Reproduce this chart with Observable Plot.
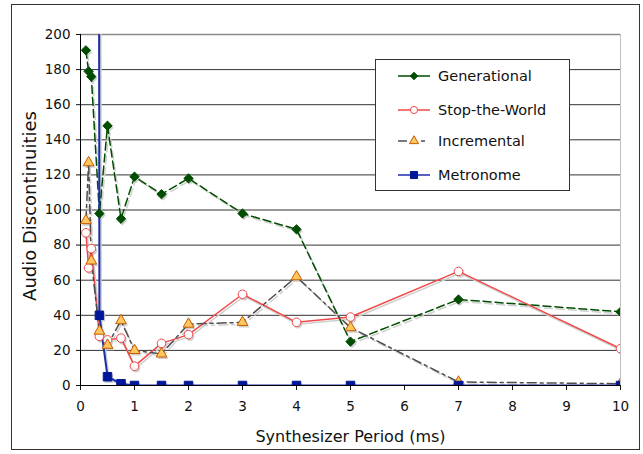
<!DOCTYPE html>
<html>
<head>
<meta charset="utf-8">
<script src="https://cdn.jsdelivr.net/npm/d3@7"></script>
<script src="https://cdn.jsdelivr.net/npm/@observablehq/plot@0.6"></script>
<style>
  html, body { margin: 0; padding: 0; background: #fff; }
  #wrap { position: relative; width: 643px; height: 454px; font-family: "DejaVu Sans", Verdana, sans-serif; }
  #border { position: absolute; left: 11px; top: 4px; width: 629px; height: 446px; border: 1px solid #333; box-sizing: border-box; pointer-events: none; }
  #legend { position: absolute; left: 375px; top: 59px; width: 195px; height: 132px; border: 1px solid #333; background: #fff; box-sizing: border-box; }
  .item { position: absolute; left: 20px; height: 20px; display: flex; align-items: center; font-size: 14.5px; color: #111; }
  .item svg { margin-right: 6px; }
</style>
</head>
<body>
<div id="wrap">
  <div id="chart"></div>
  <div id="legend"></div>
  <div id="border"></div>
</div>
<script>
// ---- data ----
const periods = [0.1, 0.15, 0.2, 0.35, 0.5, 0.75, 1, 1.5, 2, 3, 4, 5, 7, 10];
const generational = [191, 179, 176, 98, 148, 95, 119, 109, 118, 98, 89, 25, 49, 42];
const stopTheWorld = [87, 67, 78, 28, 26, 27, 11, 24, 29, 52, 36, 39, 65, 21];
const incremental = [94, 127, 71, 31, 23, 37, 20, 18, 35, 36, 62, 33, 2, 1];
const metronomePeriods = [0.2, 0.35, 0.5, 0.75, 1, 1.5, 2, 3, 4, 5, 7, 10];
const metronome = [5000, 40, 5, 1, 0, 0, 0, 0, 0, 0, 0, 0];
const xTicks = [0, 1, 2, 3, 4, 5, 6, 7, 8, 9, 10];
const yTicks = [0, 20, 40, 60, 80, 100, 120, 140, 160, 180, 200];
const seriesNames = ["Generational", "Stop-the-World", "Incremental", "Metronome"];

const gen = periods.map((p, i) => ({x: p, y: generational[i]}));
const stw = periods.map((p, i) => ({x: p, y: stopTheWorld[i]}));
const inc = periods.map((p, i) => ({x: p, y: incremental[i]}));
const met = metronomePeriods.map((p, i) => ({x: p, y: metronome[i]}));

const styles = {
  "Generational": {stroke: "#004d00", dash: "8,4", symbol: "diamond2", fill: "#004d00", mstroke: "#004d00", r: 4.2},
  "Stop-the-World": {stroke: "#f04848", dash: null, symbol: "circle", fill: "#ffffff", mstroke: "#f04848", r: 4.3},
  "Incremental": {stroke: "#4d4d4d", dash: "9,4,3,4", symbol: "triangle", fill: "#ffc75e", mstroke: "#c85a00", r: 4},
  "Metronome": {stroke: "#1c2ea8", dash: null, symbol: "square", fill: "#00179a", mstroke: "#00179a", r: 4.8}
};
const dataBy = {"Generational": gen, "Stop-the-World": stw, "Incremental": inc, "Metronome": met};

const marks = [
  Plot.ruleY(yTicks.filter(d => d > 0), {stroke: "#333333", strokeWidth: 1}),
  Plot.ruleX([10], {stroke: "#c0c0c0", strokeWidth: 1}),
  Plot.ruleY([200], {stroke: "#8a8a8a", strokeWidth: 1.5}),
  Plot.axisY({ticks: yTicks, tickSize: 4, tickPadding: 6, label: null, fontSize: 13.5, tickFormat: d => String(d)}),
  Plot.axisX({ticks: xTicks, tickSize: 5, tickPadding: 11, label: null, fontSize: 13.5, tickFormat: d => String(d)}),
  Plot.ruleX([0], {stroke: "#000"}),
  Plot.ruleY([0], {stroke: "#000"}),
];

// shadows
for (const name of seriesNames) {
  const s = styles[name];
  marks.push(Plot.line(dataBy[name], {x: "x", y: "y", stroke: "#cfcfcf", strokeWidth: name === "Metronome" ? 2 : 1.5, strokeDasharray: s.dash, dx: 1.5, dy: 2, clip: true}));
  marks.push(Plot.dot(dataBy[name], {x: "x", y: "y", symbol: s.symbol, r: s.r, fill: "#cfcfcf", stroke: "none", dx: 1.5, dy: 2, clip: true}));
}
for (const name of seriesNames) {
  const s = styles[name];
  marks.push(Plot.line(dataBy[name], {x: "x", y: "y", stroke: s.stroke, strokeWidth: name === "Metronome" ? 2 : 1.5, strokeDasharray: s.dash, clip: true}));
}
for (const name of seriesNames) {
  const s = styles[name];
  marks.push(Plot.dot(dataBy[name], {x: "x", y: "y", symbol: s.symbol, r: s.r, fill: s.fill, stroke: s.mstroke, strokeWidth: 1, clip: true}));
}
marks.push(Plot.text(["Audio Discontinuities"], {frameAnchor: "left", textAnchor: "middle", dx: -50, dy: -4, rotate: -90, fontSize: 18, fill: "#111"}));
marks.push(Plot.text(["Synthesizer Period (ms)"], {frameAnchor: "bottom", textAnchor: "middle", dy: 56, fontSize: 16, fill: "#111"}));

const chart = Plot.plot({
  width: 643,
  height: 454,
  marginLeft: 80,
  marginRight: 23,
  marginTop: 34,
  marginBottom: 69,
  x: {domain: [0, 10]},
  y: {domain: [0, 200]},
  style: {fontFamily: "DejaVu Sans, Verdana, sans-serif", color: "#111", background: "#fff"},
  marks
});
document.getElementById("chart").appendChild(chart);

// legend
const legend = document.getElementById("legend");
const rowTops = [6, 40, 71, 105];
seriesNames.forEach((name, i) => {
  const s = styles[name];
  const item = document.createElement("div");
  item.className = "item";
  item.style.top = rowTops[i] + "px";
  const ns = "http://www.w3.org/2000/svg";
  const svg = document.createElementNS(ns, "svg");
  svg.setAttribute("width", 36); svg.setAttribute("height", 20);
  const line = document.createElementNS(ns, "line");
  line.setAttribute("x1", 2); line.setAttribute("x2", 34); line.setAttribute("y1", 10); line.setAttribute("y2", 10);
  line.setAttribute("stroke", s.stroke); line.setAttribute("stroke-width", 1.5);
  if (name === "Incremental") line.setAttribute("stroke-dasharray", "9,14,4,20");
  svg.appendChild(line);
  const sym = d3.symbol({
    circle: d3.symbolCircle, square: d3.symbolSquare, triangle: d3.symbolTriangle, diamond2: d3.symbolDiamond2
  }[s.symbol], name === "Stop-the-World" ? 40 : name === "Generational" ? 36 : name === "Incremental" ? 36 : 50);
  const path = document.createElementNS(ns, "path");
  path.setAttribute("d", sym());
  path.setAttribute("transform", "translate(18,10)");
  path.setAttribute("fill", s.fill); path.setAttribute("stroke", s.mstroke);
  svg.appendChild(path);
  item.appendChild(svg);
  const label = document.createElement("span");
  label.textContent = name;
  item.appendChild(label);
  legend.appendChild(item);
});
</script>
</body>
</html>
